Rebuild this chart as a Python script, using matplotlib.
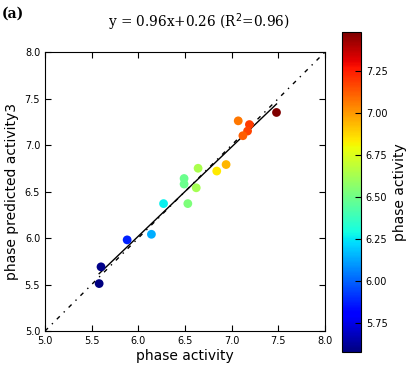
import numpy as np
import matplotlib
matplotlib.use("Agg")
import matplotlib.pyplot as plt

phase_activity = [5.58, 5.60, 5.88, 6.14, 6.27, 6.53, 6.49, 6.49, 6.62,
                  6.64, 6.84, 6.94, 7.07, 7.19, 7.17, 7.12, 7.48]
predicted = [5.51, 5.69, 5.98, 6.04, 6.37, 6.37, 6.58, 6.64, 6.54,
             6.75, 6.72, 6.79, 7.26, 7.22, 7.15, 7.10, 7.35]
slope, intercept, r2 = 0.96, 0.26, 0.96
ticks = [5.0, 5.5, 6.0, 6.5, 7.0, 7.5, 8.0]
cbar_ticks = [5.75, 6.00, 6.25, 6.50, 6.75, 7.00, 7.25]

plt.rcParams["xtick.direction"] = "in"
plt.rcParams["ytick.direction"] = "in"
plt.rcParams["xtick.top"] = True
plt.rcParams["ytick.right"] = True
plt.rcParams["xtick.major.size"] = 4
plt.rcParams["ytick.major.size"] = 4

fig = plt.figure(figsize=(4.07, 3.71), dpi=100)
ax = fig.add_axes([0.1106, 0.1078, 0.688, 0.752])
cax = fig.add_axes([0.840, 0.0512, 0.047, 0.8625])

x = np.array(phase_activity)
sc = ax.scatter(x, predicted, c=x, cmap="jet", s=40, edgecolors="none", zorder=3)
ax.plot(ticks, ticks, color="black", lw=1.0, dashes=(3, 4, 1, 4))
xf = np.array([x.min(), x.max()])
ax.plot(xf, slope * xf + intercept, color="black", lw=1.0)

ax.set_xlim(5, 8)
ax.set_ylim(5, 8)
ax.set_xticks(ticks)
ax.set_yticks(ticks)
ax.tick_params(labelsize=7)
ax.set_xlabel("phase activity", fontsize=10, labelpad=2)
ax.set_ylabel("phase predicted activity3", fontsize=10, labelpad=4)

cb = fig.colorbar(sc, cax=cax)
cb.set_ticks(cbar_ticks)
cb.ax.tick_params(labelsize=7, direction="in", length=4)
cb.set_label("phase activity", fontsize=10)

fig.text(199 / 407, 1 - 22 / 371, "y = %.2fx+%.2f (R$^2$=%.2f)" % (slope, intercept, r2),
         ha="center", va="center", family="DejaVu Serif", fontsize=9.8)
fig.text(0.005, 1 - 14 / 371, "(a)", ha="left", va="center",
         family="DejaVu Serif", fontweight="bold", fontsize=10)

fig.savefig("out.png", dpi=100)
